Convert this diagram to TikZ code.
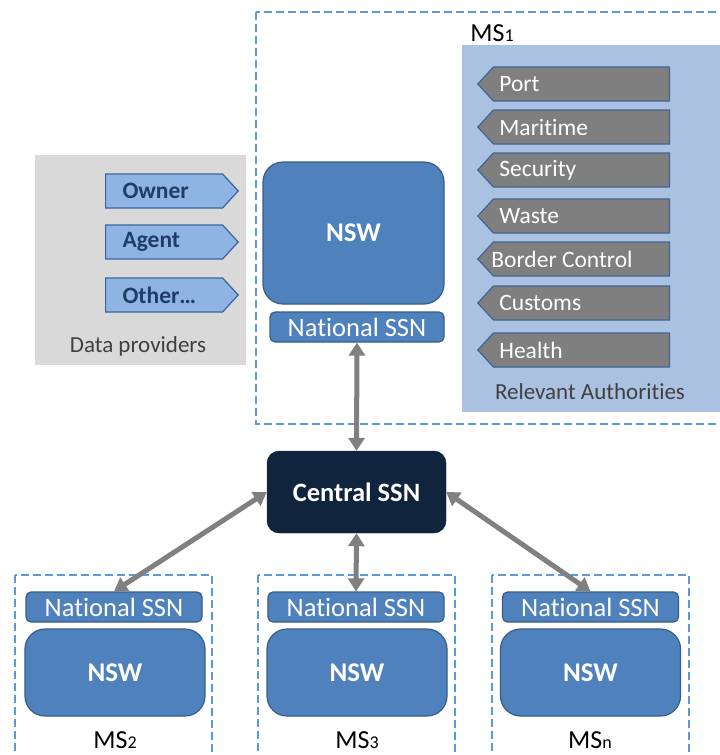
\documentclass[tikz,border=0pt]{standalone}
\usepackage{fontspec}
\setmainfont{Carlito}[Ligatures=NoCommon]
\usepackage{tikz}
\usetikzlibrary{positioning,arrows.meta,shapes.symbols}

\definecolor{msblue}{HTML}{5B9BD5}
\definecolor{nswblue}{HTML}{4F81BD}
\definecolor{nswline}{HTML}{385D8A}
\definecolor{centralnavy}{HTML}{10243E}
\definecolor{authpanel}{HTML}{AAC1E1}
\definecolor{authfill}{HTML}{7F7F7F}
\definecolor{authline}{HTML}{3F6695}
\definecolor{provpanel}{HTML}{D9D9D9}
\definecolor{provfill}{HTML}{8EB4E3}
\definecolor{provline}{HTML}{3A659C}
\definecolor{provtext}{HTML}{1F3D66}
\definecolor{conngrey}{HTML}{808080}
\definecolor{labelgrey}{HTML}{404040}

\begin{document}
\begin{tikzpicture}[x=1pt, y=-1pt,
  msbox/.style={draw=msblue, line width=2.4pt, dash pattern=on 8pt off 4pt},
  nsw/.style={draw=nswline, fill=nswblue, line width=1.2pt, rounded corners=20pt, minimum width=180pt, minimum height=87pt, font=\fontsize{27}{30}\selectfont\bfseries, text=white},
  ssn/.style={draw=nswline, fill=nswblue, line width=1.2pt, rounded corners=5pt, minimum width=176pt, minimum height=30pt, inner sep=0pt, font=\fontsize{26.5}{30}\selectfont, text=white},
  central/.style={draw=centralnavy, fill=centralnavy, rounded corners=12pt, minimum width=179pt, minimum height=82pt, font=\fontsize{26.5}{30}\selectfont\bfseries, text=white},
  prov/.style={shape=signal, signal to=east, signal pointer angle=95, draw=provline, fill=provfill, line width=1.2pt, minimum height=34pt, inner xsep=17pt, inner ysep=0pt, text width=83pt, align=flush left, font=\fontsize{23.5}{26}\selectfont\bfseries, text=provtext, anchor=west},
  auth/.style={shape=signal, signal to=west, signal pointer angle=95, draw=authline, fill=authfill, line width=1.2pt, minimum height=34pt, inner xsep=6pt, inner ysep=0pt, text width=164pt, align=flush left, font=\fontsize{23.5}{26}\selectfont, text=white, anchor=east},
  panellbl/.style={font=\fontsize{23}{26}\selectfont, text=labelgrey},
  mslbl/.style={font=\fontsize{26}{30}\selectfont, text=black},
  conn/.style={{Triangle[width=16pt,length=13pt]}-{Triangle[width=16pt,length=13pt]}, line width=5pt, draw=conngrey},
]
\useasboundingbox (0,0) rectangle (720,755);
\clip (0,0) rectangle (720,755);
\fill[white] (0,0) rectangle (720,755);

% --- MS1 ---
\draw[msbox] (256,12) rectangle (740,424);
\node[mslbl] (ms1) at (492,33) {MS{\fontsize{18}{20}\selectfont 1}};
\node[nsw, minimum width=181pt, minimum height=142pt] (nsw1) at (353.5,233) {NSW};
\node[ssn, minimum width=174pt] (nssn1) at (357,327) {National SSN};

% --- data providers ---
\fill[provpanel] (35,155) rectangle (246,365);
\node[prov] (owner) at (105,191) {Owner};
\node[prov] (agent) at (105,242) {Agent};
\node[prov] (other) at (105,295) {Other\dots};
\node[panellbl] (provlbl) at (138,346) {Data providers};

% --- relevant authorities ---
\fill[authpanel] (462,45) rectangle (730,412);
\node[auth] (port) at (670,84) {Port};
\node[auth] (maritime) at (670,127) {Maritime};
\node[auth] (security) at (670,170) {Security};
\node[auth] (waste) at (670,216) {Waste};
\node[auth] (border) at (670,259) {\hspace*{-8pt}Border Control};
\node[auth] (customs) at (670,303) {Customs};
\node[auth] (health) at (670,350) {Health};
\node[panellbl] (authlbl) at (590,392) {Relevant Authorities};

% --- central ---
\node[central] (central) at (356.5,492) {Central SSN};

% --- other member states ---
\draw[msbox] (15,575) rectangle (212,775);
\node[ssn] (nssn2) at (114,607) {National SSN};
\node[nsw] (nsw2) at (115,672.5) {NSW};
\node[mslbl] (ms2) at (115,740) {MS{\fontsize{18}{20}\selectfont 2}};

\draw[msbox] (258,575) rectangle (455,775);
\node[ssn] (nssn3) at (356,607) {National SSN};
\node[nsw] (nsw3) at (357,672.5) {NSW};
\node[mslbl] (ms3) at (357,740) {MS{\fontsize{18}{20}\selectfont 3}};

\draw[msbox] (492,575) rectangle (689,775);
\node[ssn] (nssnn) at (590.5,607) {National SSN};
\node[nsw] (nswn) at (590.5,672.5) {NSW};
\node[mslbl] (msn) at (590,740) {MS{\fontsize{18}{20}\selectfont n}};

% --- links ---
\draw[conn] (nssn1.south) -- (central.north);
\draw[conn] (central.west) -- (nssn2.north);
\draw[conn] (central.south) -- (nssn3.north);
\draw[conn] (central.east) -- (nssnn.north);
\end{tikzpicture}
\end{document}
